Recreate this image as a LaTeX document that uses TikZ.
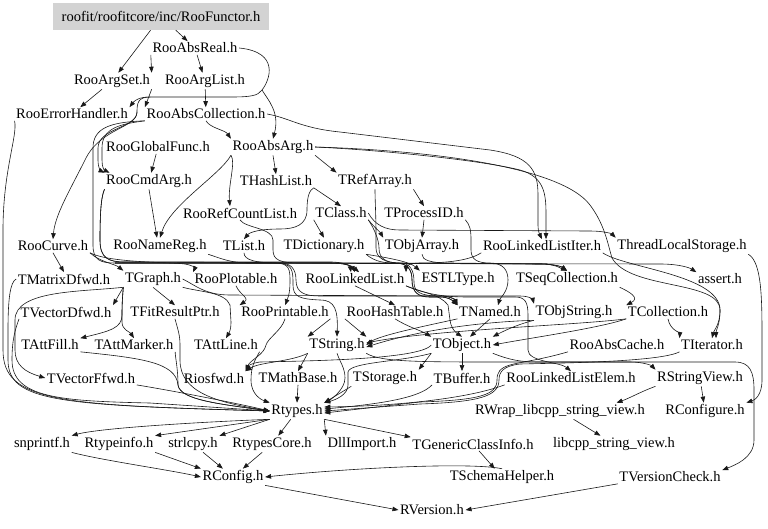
\documentclass[tikz,border=0pt]{standalone}
\usepackage{fontspec}
\setmainfont{Liberation Serif}
\usetikzlibrary{arrows.meta}
\definecolor{rootgray}{RGB}{211,211,211}
\definecolor{edgecol}{RGB}{25,25,25}
\begin{document}
\begin{tikzpicture}[x=1pt,y=-1pt,
  n/.style={inner sep=1.5pt, font=\fontsize{14.5}{16}\selectfont},
  e/.style={draw=edgecol, line width=0.6pt, -{Triangle[length=6pt,width=4.5pt]}},
  ln/.style={draw=edgecol, line width=0.6pt},
]
\useasboundingbox[fill=white] (0,0) rectangle (768,528);
% nodes
\node[n, fill=rootgray, minimum width=216pt, minimum height=27pt] (functor) at (161,16.5) {roofit/roofitcore/inc/RooFunctor.h};
\node[n] (absreal) at (195,48) {RooAbsReal.h};
\node[n] (argset) at (112,81) {RooArgSet.h};
\node[n] (arglist) at (205,81) {RooArgList.h};
\node[n] (errh) at (72,114) {RooErrorHandler.h};
\node[n] (abscoll) at (206,114) {RooAbsCollection.h};
\node[n] (globfunc) at (158,147) {RooGlobalFunc.h};
\node[n] (absarg) at (273,147) {RooAbsArg.h};
\node[n] (cmdarg) at (149,181) {RooCmdArg.h};
\node[n] (hashlist) at (276,181) {THashList.h};
\node[n] (refarray) at (375,181) {TRefArray.h};
\node[n] (refcount) at (240,213) {RooRefCountList.h};
\node[n] (tclass) at (341,213) {TClass.h};
\node[n] (procid) at (424,213) {TProcessID.h};
\node[n] (curve) at (53,246) {RooCurve.h};
\node[n] (namereg) at (160,246) {RooNameReg.h};
\node[n] (tlist) at (244,246) {TList.h};
\node[n] (tdict) at (324,246) {TDictionary.h};
\node[n] (objarray) at (422,246) {TObjArray.h};
\node[n] (llistiter) at (542,246) {RooLinkedListIter.h};
\node[n] (tls) at (682,246) {ThreadLocalStorage.h};
\node[n] (matrixd) at (64,279) {TMatrixDfwd.h};
\node[n] (tgraph) at (153,279) {TGraph.h};
\node[n] (plotable) at (236,279) {RooPlotable.h};
\node[n] (llist) at (355,279) {RooLinkedList.h};
\node[n] (estl) at (458,279) {ESTLType.h};
\node[n] (seqcoll) at (567,279) {TSeqCollection.h};
\node[n] (assert) at (720,279) {assert.h};
\node[n] (vectord) at (66,312) {TVectorDfwd.h};
\node[n] (fitres) at (175,312) {TFitResultPtr.h};
\node[n] (printable) at (285,312) {RooPrintable.h};
\node[n] (hashtable) at (395,312) {RooHashTable.h};
\node[n] (tnamed) at (490,312) {TNamed.h};
\node[n] (objstring) at (574,312) {TObjString.h};
\node[n] (tcoll) at (668,312) {TCollection.h};
\node[n] (attfill) at (50,345) {TAttFill.h};
\node[n] (attmarker) at (134,345) {TAttMarker.h};
\node[n] (attline) at (226,345) {TAttLine.h};
\node[n] (tstring) at (337,345) {TString.h};
\node[n] (tobject) at (462,345) {TObject.h};
\node[n] (abscache) at (617,345) {RooAbsCache.h};
\node[n] (titer) at (712,345) {TIterator.h};
\node[n] (vectorf) at (91,378) {TVectorFfwd.h};
\node[n] (riosfwd) at (214,378) {Riosfwd.h};
\node[n] (mathbase) at (298,378) {TMathBase.h};
\node[n] (storage) at (385,378) {TStorage.h};
\node[n] (tbuffer) at (462,378) {TBuffer.h};
\node[n] (llelem) at (571,378) {RooLinkedListElem.h};
\node[n] (strview) at (700,378) {RStringView.h};
\node[n] (rtypes) at (297,411) {Rtypes.h};
\node[n] (rwrap) at (560,411) {RWrap\_libcpp\_string\_view.h};
\node[n] (rconfigure) at (705,411) {RConfigure.h};
\node[n] (snprintf) at (42,444) {snprintf.h};
\node[n] (rtypeinfo) at (119,444) {Rtypeinfo.h};
\node[n] (strlcpy) at (193,444) {strlcpy.h};
\node[n] (rtypescore) at (272,444) {RtypesCore.h};
\node[n] (dllimport) at (362,444) {DllImport.h};
\node[n] (genclass) at (473,444) {TGenericClassInfo.h};
\node[n] (libcpp) at (614,444) {libcpp\_string\_view.h};
\node[n] (rconfig) at (233,477) {RConfig.h};
\node[n] (schema) at (502,477) {TSchemaHelper.h};
\node[n] (vcheck) at (670,477) {TVersionCheck.h};
\node[n] (rversion) at (432,510) {RVersion.h};

% junction points of shared spline parts
\coordinate (jA) at (262,90);
\coordinate (jB) at (150,97);
\coordinate (jC) at (137,112);
\coordinate (jD) at (115,263);

% ---- top rows
\draw[e] (functor) -- (argset);
\draw[e] (functor) -- (absreal);
\draw[e] (absreal.south west) -- (argset.north east);
\draw[e] (absreal) -- (arglist);
\draw[ln] (absreal.east) .. controls (280,52) and (270,80) .. (jA);
\draw[e] (jA) .. controls (268,100) and (280,112) .. (absarg.north);
\draw[ln] (jA) .. controls (258,96) and (250,97) .. (230,97) -- (jB);
\draw[e] (jB) .. controls (140,97) and (135,100) .. (errh.north east);
\draw[ln] (jB) .. controls (138,97) and (137,103) .. (jC);
\draw[e] (jC) .. controls (137,128) and (100,128) .. (85,160) .. controls (70,190) and (55,215) .. (curve.north);
\draw[e] (jC) .. controls (137,128) and (98,128) .. (98,148) -- (98,160) .. controls (98,168) and (101,171) .. (cmdarg.north west);
\draw[e] (argset) -- (errh);
\draw[e] (argset.south east) -- (abscoll.north west);
\draw[e] (arglist) -- (abscoll);
\draw[e] (errh.south west) .. controls (18,135) and (3,170) .. (3,230) -- (3,350) .. controls (3,402) and (60,405) .. (rtypes.west);
\draw[e] (abscoll.south) .. controls (210,128) and (225,130) .. (absarg.north west);
\draw[e] (abscoll.south west) .. controls (120,124) and (102,128) .. (102,148) -- (102,160) .. controls (102,167) and (104,170) .. ([xshift=5pt]cmdarg.north west);
% bundle from RooAbsCollection down the left side
\draw[ln] (abscoll.south west) .. controls (110,122) and (93,128) .. (93,148) -- (93,245) .. controls (93,260) and (100,263) .. (jD);
\draw[e] (jD) -- (330,263) .. controls (345,263) and (352,266) .. (llist.north);
\draw[e] (jD) -- (275,263) .. controls (290,263) and (290,270) .. (290,282) .. controls (290,295) and (287,300) .. (printable.north);
\draw[e] (jD) -- (275,263) .. controls (293,263) and (293,270) .. (293,285) .. controls (293,297) and (300,299) .. (320,300) .. controls (335,300) and (338,310) .. (tstring.north);
\draw[e] (jD) -- (660,264) .. controls (680,264) and (690,268) .. (assert.north west);
\draw[e] (abscoll.east) .. controls (290,118) and (300,128) .. (340,132) -- (490,150) .. controls (530,156) and (538,170) .. (538,195) -- (538,225) .. controls (538,232) and (540,235) .. (llistiter.north);
% RooAbsArg
\draw[e] (absarg.east) .. controls (380,150) and (480,160) .. (520,170) .. controls (545,177) and (546,195) .. (546,215) -- (546,232) .. controls (546,235) and (546,237) .. ([xshift=4pt]llistiter.north);
\draw[e] (absarg.east) .. controls (420,150) and (560,165) .. (590,205) .. controls (605,225) and (608,245) .. (612,258) .. controls (630,290) and (720,280) .. (720,310) .. controls (720,325) and (714,330) .. (titer.north);
\draw[e] (absarg.south) -- (hashlist.north);
\draw[e] (absarg.south east) -- (refarray.north west);
\draw[e] (absarg.south west) .. controls (236,162) and (228,185) .. ([xshift=-10pt]refcount.north);
\draw[e] (absarg.south west) .. controls (220,175) and (170,205) .. (namereg.north);
\draw[e] (globfunc) -- (cmdarg);
\draw[e] (cmdarg.south) -- ([xshift=-3pt]namereg.north);
\draw[e] (cmdarg.south west) .. controls (102,195) and (100,205) .. (100,240) .. controls (100,258) and (108,262) .. (125,262) -- (330,262) .. controls (345,262) and (350,266) .. ([xshift=-4pt]llist.north);
\draw[e] (cmdarg.south west) .. controls (102,195) and (100,205) .. (100,240) .. controls (100,258) and (108,262) .. (125,262) -- (395,263) .. controls (408,263) and (412,270) .. (412,280) .. controls (412,292) and (418,297) .. (430,297) -- (440,297) .. controls (448,297) and (452,300) .. (tnamed.north west);
% second level
\draw[e] (hashlist.south east) .. controls (310,190) and (307,195) .. (307,210) .. controls (307,225) and (295,229) .. (280,229) .. controls (260,229) and (250,232) .. (tlist.north);
\draw[e] (hashlist.south east) -- (tclass.north);
\draw[e] (refarray.south east) -- (procid.north);
\draw[e] (refarray.south) .. controls (375,200) and (376,215) .. (376,235) -- (376,248) .. controls (376,258) and (385,263) .. (400,263) -- (540,264) .. controls (555,264) and (560,268) .. (seqcoll.north);
\draw[e] (refcount.south) .. controls (245,228) and (273,228) .. (273,240) -- (273,250) .. controls (273,260) and (280,263) .. (300,263) -- (330,263) .. controls (345,263) and (352,266) .. ([xshift=4pt]llist.north);
\draw[e] (tclass.south west) -- (tdict.north);
\draw[e] (tclass.south east) .. controls (375,228) and (380,232) .. (objarray.north west);
\draw[e] (tclass.east) .. controls (375,225) and (385,230) .. (400,230) -- (590,231) .. controls (605,231) and (612,234) .. (tls.north west);
\draw[e] (tclass.south east) .. controls (374,228) and (379,240) .. (379,248) .. controls (379,258) and (385,263) .. (400,263) .. controls (410,263) and (414,270) .. (414,282) .. controls (414,292) and (420,296) .. (440,296) -- (520,296) .. controls (530,296) and (533,300) .. (objstring.north west);
\draw[e] (procid.south) -- (objarray.north);
\draw[e] (procid.south east) .. controls (470,225) and (471,230) .. (471,240) -- (471,250) .. controls (471,260) and (478,263) .. (490,263) .. controls (503,263) and (508,270) .. (508,280) .. controls (508,292) and (500,298) .. ([xshift=8pt]tnamed.north);
% third level
\draw[e] (curve.south) -- (matrixd.north);
\draw[e] (curve.south east) .. controls (100,262) and (115,264) .. (tgraph.north west);
\draw[e] (curve.south east) .. controls (110,263) and (170,262) .. (185,264) .. controls (192,265) and (195,268) .. (plotable.north west);
\draw[e] (namereg.south east) .. controls (220,258) and (230,263) .. (250,263) -- (280,263) .. controls (290,263) and (296,268) .. (296,280) .. controls (296,293) and (305,296) .. (320,296) -- (440,296) .. controls (450,296) and (455,299) .. (tnamed.north west);
\draw[e] (tlist.south) .. controls (244,260) and (255,263) .. (280,263) -- (540,264) .. controls (555,264) and (562,267) .. (seqcoll.north);
\draw[e] (tdict.south east) .. controls (375,262) and (385,263) .. (395,263) .. controls (408,263) and (412,270) .. (412,280) .. controls (412,292) and (418,297) .. (430,297) -- (440,297) .. controls (448,297) and (452,300) .. (tnamed.north west);
\draw[e] (tdict.south east) .. controls (390,258) and (410,262) .. (estl.north west);
\draw[e] (objarray.south) .. controls (422,260) and (430,263) .. (450,263) -- (540,264) .. controls (555,264) and (562,267) .. (seqcoll.north);
\draw[e] (llistiter.south west) .. controls (470,260) and (450,263) .. (420,263) .. controls (410,263) and (406,266) .. (llist.north east);
\draw[e] (llistiter.south east) .. controls (625,268) and (720,275) .. (720,310) .. controls (720,325) and (716,330) .. ([xshift=4pt]titer.north);
\draw[e] (tls.south east) .. controls (762,262) and (762,300) .. (762,340) -- (762,380) .. controls (762,395) and (755,400) .. (rconfigure.north east);
% TGraph
\draw[e] (tgraph.south west) -- (vectord.north east);
\draw[e] (tgraph.south) -- (fitres.north);
\draw[e] (tgraph.south west) .. controls (123,292) and (122,300) .. (122,315) .. controls (122,328) and (110,331) .. (attfill.north east);
\draw[e] (tgraph.south west) .. controls (123,292) and (122,300) .. (122,315) -- (122,322) .. controls (122,330) and (130,332) .. (attmarker.north);
\draw[e] (tgraph.south east) .. controls (200,292) and (225,292) .. (230,305) -- (231,322) .. controls (231,330) and (229,333) .. (attline.north);
\draw[e] (tgraph.east) .. controls (195,285) and (205,295) .. (230,295) -- (440,296) .. controls (450,296) and (455,300) .. (tnamed.north west);
\draw[e] (tgraph.south west) .. controls (80,292) and (15,290) .. (15,320) -- (15,350) .. controls (15,365) and (25,372) .. (vectorf.west);
\draw[e] (plotable.south) .. controls (240,295) and (250,298) .. (printable.north west);
\draw[e] (llist.south) -- (hashtable.north);
\draw[e] (llist.south east) .. controls (420,292) and (440,294) .. (448,305) -- (450,320) .. controls (451,328) and (455,332) .. (tobject.north);
\draw[e] (llist.south east) .. controls (430,296) and (450,297) .. (470,297) -- (515,297) .. controls (525,297) and (528,302) .. (528,315) -- (528,350) .. controls (528,362) and (560,362) .. (llelem.north);
\draw[e] (seqcoll.south east) .. controls (630,292) and (640,298) .. (tcoll.north west);
\draw[e] (matrixd.west) .. controls (10,282) and (8,300) .. (8,330) -- (8,360) .. controls (8,402) and (60,405) .. (rtypes.west);
% fourth level
\draw[e] (vectord.south west) .. controls (15,330) and (12,340) .. (12,360) .. controls (12,398) and (60,401) .. (150,403) -- (rtypes.west);
\draw[e] (fitres.south) .. controls (178,330) and (180,335) .. (180,345) -- (180,360) .. controls (180,392) and (215,402) .. (rtypes.west);
\draw[e] (printable.south) .. controls (282,330) and (268,338) .. (266,345) .. controls (264,355) and (250,360) .. (riosfwd.north east);
\draw[e] (printable.south east) -- (tstring.north west);
\draw[e] (hashtable.south west) -- (tstring.north east);
\draw[e] (hashtable.south) .. controls (410,328) and (420,330) .. (tobject.north west);
\draw[e] (tnamed.south) -- ([xshift=8pt]tobject.north);
\draw[e] (tnamed.south west) .. controls (430,325) and (380,335) .. (tstring.east);
\draw[e] (objstring.south west) .. controls (515,325) and (500,333) .. (tobject.north east);
\draw[e] (objstring.south west) .. controls (480,322) and (420,330) .. ([yshift=-2pt]tstring.east);
\draw[e] (tcoll.south west) .. controls (600,328) and (530,338) .. (tobject.east);
\draw[e] (tcoll.south west) .. controls (580,325) and (430,330) .. ([yshift=2pt]tstring.east);
\draw[e] (tcoll.south) .. controls (670,330) and (680,333) .. (titer.north west);
% fifth level
\draw[e] (attfill.south east) .. controls (140,358) and (176,362) .. (178,385) .. controls (180,400) and (220,404) .. (rtypes.west);
\draw[e] (attmarker.south east) .. controls (175,356) and (178,368) .. (178,385) .. controls (180,400) and (220,404) .. (rtypes.west);
\draw[e] (attline.south east) .. controls (255,360) and (251,366) .. (251,380) .. controls (251,395) and (262,400) .. (rtypes.north west);
\draw[e] (tstring.south west) -- (mathbase.north);
\draw[e] (tstring.south) .. controls (340,362) and (345,368) .. (345,378) .. controls (345,390) and (330,400) .. (rtypes.north east);
\draw[e] (tstring.south west) .. controls (290,362) and (260,362) .. (riosfwd.north east);
\draw[e] (tstring.south east) .. controls (380,362) and (420,362) .. (500,362) -- (630,362) .. controls (645,362) and (652,366) .. (strview.north west);
\draw[e] (tobject.south west) -- (storage.north east);
\draw[e] (tobject.south) -- (tbuffer.north);
\draw[e] (tobject.south west) .. controls (400,362) and (350,362) .. (348,372) -- (348,385) .. controls (348,395) and (335,400) .. (rtypes.north east);
\draw[e] (tobject.west) .. controls (420,360) and (300,361) .. (260,362) .. controls (252,363) and (248,366) .. (riosfwd.north east);
\draw[e] (tobject.south east) .. controls (510,360) and (520,362) .. (540,362) -- (735,362) .. controls (750,362) and (754,372) .. (754,390) -- (754,440) .. controls (754,458) and (735,465) .. (vcheck.north east);
\draw[e] (abscache.south west) .. controls (540,360) and (520,362) .. (510,365) .. controls (500,368) and (497,372) .. (497,380) .. controls (497,395) and (480,400) .. (420,402) -- ([yshift=-2pt]rtypes.east);
\draw[e] (titer.south west) .. controls (660,362) and (560,363) .. (520,364) .. controls (503,366) and (499,372) .. (499,380) .. controls (499,396) and (480,402) .. (420,404) -- (rtypes.east);
% sixth level
\draw[e] (vectorf.south east) .. controls (180,392) and (240,404) .. (rtypes.west);
\draw[e] (mathbase.south) -- (rtypes.north);
\draw[e] (storage.south west) -- (rtypes.north east);
\draw[e] (tbuffer.south west) .. controls (420,398) and (380,404) .. ([yshift=2pt]rtypes.east);
\draw[e] (llelem.south west) .. controls (470,398) and (400,406) .. ([yshift=4pt]rtypes.east);
\draw[e] (strview) -- (rconfigure);
\draw[e] (strview.south west) .. controls (640,392) and (630,398) .. ([xshift=-30pt]rwrap.north east);
% Rtypes and below
\draw[e] (rtypes.south west) .. controls (200,422) and (100,428) .. (snprintf.north east);
\draw[e] (rtypes.south west) -- (rtypeinfo.north east);
\draw[e] (rtypes.south west) -- (strlcpy.north east);
\draw[e] (rtypes) -- (rtypescore);
\draw[e] (rtypes.south east) -- (dllimport.north west);
\draw[e] (rtypes.south east) -- (genclass.north west);
\draw[e] (rwrap) -- (libcpp);
\draw[e] (snprintf.south east) .. controls (100,460) and (170,470) .. (rconfig.west);
\draw[e] (rtypeinfo.south east) -- (rconfig.north west);
\draw[e] (strlcpy) -- (rconfig);
\draw[e] (rtypescore) -- (rconfig);
\draw[e] (genclass) -- (schema);
\draw[e] (schema.north) .. controls (470,462) and (350,468) .. (rconfig.east);
\draw[e] (rconfig.south east) -- (rversion.west);
\draw[e] (vcheck.south west) -- (rversion.east);
\end{tikzpicture}
\end{document}
